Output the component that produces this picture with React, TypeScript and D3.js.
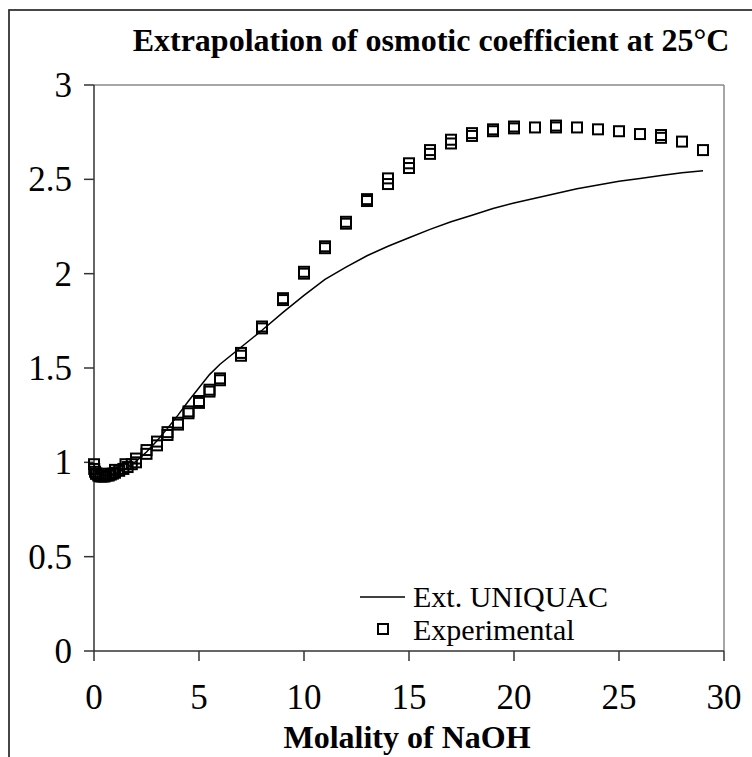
import React from "react";
import * as d3 from "d3";

// UNIQUAC model curve
const calcMolality = [0, 0.1, 0.3, 0.5, 1, 1.5, 2, 2.5, 3, 3.5, 4, 4.5, 5, 5.5, 6, 7, 8, 9, 10, 11, 12, 13, 14, 15, 16, 17, 18, 19, 20, 21, 22, 23, 24, 25, 26, 27, 28, 29];
const calcPhi = [0.99, 0.95, 0.935, 0.93, 0.94, 0.965, 1.005, 1.055, 1.115, 1.18, 1.25, 1.325, 1.395, 1.465, 1.52, 1.61, 1.70, 1.795, 1.885, 1.97, 2.035, 2.095, 2.145, 2.19, 2.235, 2.275, 2.31, 2.345, 2.375, 2.40, 2.425, 2.45, 2.47, 2.49, 2.505, 2.52, 2.535, 2.545];

// Experimental data, source A
const expMolalityA = [0.1, 0.2, 0.3, 0.4, 0.5, 0.6, 0.7, 0.8, 0.9, 1.0, 1.2, 1.4, 1.6, 1.8, 2.0, 2.5, 3, 3.5, 4, 4.5, 5, 5.5, 6, 7, 8, 9, 10, 11, 12, 13, 14, 15, 16, 17, 18, 19, 20, 21, 22, 23, 24, 25, 26, 27, 28, 29];
const expPhiA = [0.94, 0.93, 0.925, 0.925, 0.925, 0.93, 0.93, 0.935, 0.94, 0.945, 0.955, 0.965, 0.975, 0.99, 1.0, 1.045, 1.09, 1.145, 1.20, 1.26, 1.315, 1.375, 1.435, 1.565, 1.71, 1.86, 2.0, 2.135, 2.265, 2.385, 2.475, 2.56, 2.635, 2.69, 2.73, 2.755, 2.77, 2.775, 2.775, 2.775, 2.765, 2.755, 2.74, 2.72, 2.70, 2.655];

// Experimental data, source B
const expMolalityB = [0.001, 0.01, 0.05, 0.1, 0.5, 1, 1.5, 2, 2.5, 3, 3.5, 4, 4.5, 5, 5.5, 6, 7, 8, 9, 10, 11, 12, 13, 14, 15, 16, 17, 18, 19, 20, 22, 27];
const expPhiB = [0.99, 0.965, 0.95, 0.94, 0.94, 0.96, 0.99, 1.02, 1.065, 1.11, 1.16, 1.21, 1.27, 1.325, 1.385, 1.445, 1.58, 1.72, 1.87, 2.01, 2.145, 2.275, 2.395, 2.505, 2.585, 2.655, 2.71, 2.745, 2.765, 2.78, 2.785, 2.735];

const xTicks = [0, 5, 10, 15, 20, 25, 30];
const yTicks = [0, 0.5, 1, 1.5, 2, 2.5, 3];

const title = "Extrapolation of osmotic coefficient at 25°C";
const xTitle = "Molality of NaOH";
const legendLine = "Ext. UNIQUAC";
const legendPoints = "Experimental";

export default function App() {
  const x = d3.scaleLinear().domain([0, 30]).range([94, 724]);
  const y = d3.scaleLinear().domain([0, 3]).range([651, 85]);
  const line = d3
    .line<number>()
    .x((_, i) => x(calcMolality[i]))
    .y((d) => y(d));
  const pathD = line(calcPhi) || "";
  const sq = 10;
  const font = "'Liberation Serif', 'Times New Roman', serif";
  const pointsA = expMolalityA.map((m, i) => [x(m), y(expPhiA[i])]);
  const pointsB = expMolalityB.map((m, i) => [x(m), y(expPhiB[i])]);
  return (
    <svg
      width={752}
      height={757}
      style={{ position: "absolute", left: 0, top: 0, background: "#fff" }}
      fontFamily={font}
    >
      <rect x={0} y={0} width={752} height={757} fill="#fff" />
      <rect x={9} y={10} width={900} height={900} fill="none" stroke="#333" strokeWidth={1.8} />
      <text x={431} y={51} textAnchor="middle" fontSize={32} fontWeight="bold">
        {title}
      </text>
      {/* plot frame */}
      <line x1={94} y1={85} x2={724} y2={85} stroke="#888" strokeWidth={1.5} />
      <line x1={724} y1={85} x2={724} y2={651} stroke="#888" strokeWidth={1.5} />
      {/* axes */}
      <line x1={94} y1={85} x2={94} y2={651} stroke="#333" strokeWidth={1.5} />
      <line x1={94} y1={651} x2={724} y2={651} stroke="#333" strokeWidth={1.5} />
      {yTicks.map((t) => (
        <g key={"y" + t}>
          <line x1={84} x2={94} y1={y(t)} y2={y(t)} stroke="#333" strokeWidth={1.5} />
          <text x={72} y={y(t) + 12} textAnchor="end" fontSize={35}>
            {t}
          </text>
        </g>
      ))}
      {xTicks.map((t) => (
        <g key={"x" + t}>
          <line x1={x(t)} x2={x(t)} y1={651} y2={661} stroke="#333" strokeWidth={1.5} />
          <text x={x(t)} y={709} textAnchor="middle" fontSize={35}>
            {t}
          </text>
        </g>
      ))}
      <text x={407} y={748} textAnchor="middle" fontSize={32} fontWeight="bold">
        {xTitle}
      </text>
      <path d={pathD} fill="none" stroke="#000" strokeWidth={1.5} />
      {pointsA.map(([px, py], i) => (
        <rect key={"a" + i} x={px - sq / 2} y={py - sq / 2} width={sq} height={sq} fill="none" stroke="#000" strokeWidth={2} />
      ))}
      {pointsB.map(([px, py], i) => (
        <rect key={"b" + i} x={px - sq / 2} y={py - sq / 2} width={sq} height={sq} fill="none" stroke="#000" strokeWidth={2} />
      ))}
      {/* legend */}
      <line x1={360} x2={405} y1={597} y2={597} stroke="#000" strokeWidth={1.5} />
      <text x={413} y={607} fontSize={30}>
        {legendLine}
      </text>
      <rect x={383 - sq / 2} y={629 - sq / 2} width={sq} height={sq} fill="none" stroke="#000" strokeWidth={2} />
      <text x={413} y={640} fontSize={30}>
        {legendPoints}
      </text>
    </svg>
  );
}
